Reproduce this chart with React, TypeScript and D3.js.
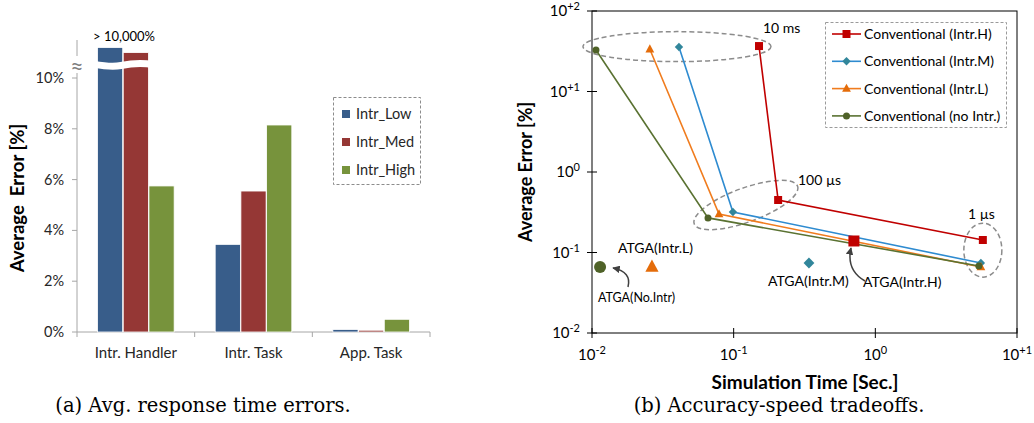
import React from "react";
import * as d3 from "d3";

// ---------- (a) bar chart data ----------
const categories = ["Intr. Handler", "Intr. Task", "App. Task"];
const seriesNames = ["Intr_Low", "Intr_Med", "Intr_High"];
// bars above 10% are drawn broken (actual values > 10,000%)
const intrLow = [11.2, 3.45, 0.1];
const intrMed = [11.0, 5.55, 0.07];
const intrHigh = [5.75, 8.15, 0.5];
const leftTicks = [0, 2, 4, 6, 8, 10];
const breakThreshold = 10;
const barColors = ["#385D8A", "#953735", "#77933C"];

// ---------- (b) log-log scatter data ----------
const convNames = ["Conventional (Intr.H)", "Conventional (Intr.M)", "Conventional (Intr.L)", "Conventional (no Intr.)"];
const convHx = [0.151, 0.206, 5.74];
const convHy = [36.7, 0.449, 0.143];
const convMx = [0.0411, 0.0988, 5.56];
const convMy = [35.7, 0.318, 0.0741];
const convLx = [0.0256, 0.0788, 5.56];
const convLy = [33.5, 0.3, 0.066];
const convNx = [0.01067, 0.0659, 5.38];
const convNy = [32.8, 0.269, 0.068];
const atgaNames = ["ATGA(No.Intr)", "ATGA(Intr.L)", "ATGA(Intr.M)", "ATGA(Intr.H)"];
const atgaX = [0.0114, 0.0265, 0.34, 0.706];
const atgaY = [0.066, 0.066, 0.0741, 0.139];
const xLogTicks = [0.01, 0.1, 1, 10];
const yLogTicks = [0.01, 0.1, 1, 10, 100];
const xTickExp = ["-2", "-1", "0", "+1"];
const yTickExp = ["-2", "-1", "0", "+1", "+2"];
const lineColors = ["#C00000", "#2E8BD0", "#F07C1E", "#5A7232"];
const markerColors = ["#C00000", "#31869B", "#E46C0A", "#4F6228"];
const shapes = ["square", "diamond", "triangle", "circle"];
// annotation groups (data coords of ellipse centres)
const groupLabels = ["10 ms", "100 µs", "1 µs"];
const groupCx = [0.0398, 0.122, 5.74];
const groupCy = [36.1, 0.389, 0.107];

const FONT = "Lato, 'Open Sans', sans-serif";

function markerPath(shape: string, x: number, y: number, s: number) {
  const h = s / 2;
  if (shape === "square") return `M${x - h},${y - h}h${s}v${s}h${-s}Z`;
  if (shape === "diamond") return `M${x},${y - h * 1.2}L${x + h * 1.2},${y}L${x},${y + h * 1.2}L${x - h * 1.2},${y}Z`;
  if (shape === "triangle") return `M${x},${y - s * 0.62}L${x + h * 1.1},${y + s * 0.4}L${x - h * 1.1},${y + s * 0.4}Z`;
  const p = d3.path();
  p.arc(x, y, h, 0, Math.PI * 2);
  return p.toString();
}

function BarChart() {
  const x0 = d3.scaleBand<string>().domain(categories).range([77, 430]).paddingInner(0.34).paddingOuter(0.17);
  const x1 = d3.scaleBand<string>().domain(seriesNames).range([0, x0.bandwidth()]).padding(0.02);
  const y = d3.scaleLinear().domain([0, 10]).range([332, 78]);
  const series = [intrLow, intrMed, intrHigh];
  const step = x0.step();
  const axisColor = "#A6A6A6";
  return (
    <g fontFamily={FONT}>
      {/* axes */}
      <line x1={77} x2={77} y1={40} y2={332} stroke={axisColor} />
      <line x1={77} x2={430} y1={332} y2={332} stroke={axisColor} />
      {leftTicks.map((t) => (
        <g key={t}>
          <line x1={72} x2={77} y1={y(t)} y2={y(t)} stroke={axisColor} />
          <text x={64} y={y(t)} dy="0.35em" textAnchor="end" fontSize={14.5} fill="#262626">{t}%</text>
        </g>
      ))}
      {d3.range(categories.length + 1).map((i) => (
        <line key={i} x1={77 + i * step} x2={77 + i * step} y1={332} y2={337} stroke={axisColor} />
      ))}
      {categories.map((c) => (
        <text key={c} x={(x0(c) as number) + x0.bandwidth() / 2} y={358} textAnchor="middle" fontSize={15} fill="#262626">{c}</text>
      ))}
      {/* bars */}
      {series.map((vals, si) =>
        vals.map((v, ci) => {
          const bx = (x0(categories[ci]) as number) + (x1(seriesNames[si]) as number);
          return (
            <rect key={si + "-" + ci} x={bx} y={y(v)} width={x1.bandwidth()} height={332 - y(v)}
              fill={barColors[si]} stroke="#ffffff" strokeWidth={0.8} />
          );
        })
      )}
      {/* break band across bars above the threshold */}
      {series[0][0] > breakThreshold && (
        <path d="M92,64 C101,65.5 111,67.5 121,65.5 S140,62.5 153,64.5" fill="none" stroke="#fff" strokeWidth={7} />
      )}
      <rect x={69} y={56} width={16} height={17} fill="#fff" />
      <text x={77} y={74} textAnchor="middle" fontSize={23} fill="#7f7f7f">≈</text>
      <text x={124} y={41} textAnchor="middle" fontSize={13} fill="#000">&gt; 10,000%</text>
      {/* y title */}
      <text transform="translate(24,198) rotate(-90)" textAnchor="middle" fontSize={18.5} fontWeight="bold" fill="#000" xmlSpace="preserve">Average  Error [%]</text>
      {/* legend */}
      <rect x={333.5} y={97.5} width={87} height={87} fill="none" stroke="#8c8c8c" strokeDasharray="3,2" />
      {seriesNames.map((n, i) => (
        <g key={n}>
          <rect x={342} y={110 + i * 28} width={8} height={8} fill={barColors[i]} />
          <text x={356} y={114 + i * 28} dy="0.35em" fontSize={14.5} fill="#262626">{n}</text>
        </g>
      ))}
    </g>
  );
}

function ScatterChart() {
  const x = d3.scaleLog().domain([0.01, 10]).range([592, 1017]);
  const y = d3.scaleLog().domain([0.01, 100]).range([333, 11]);
  const xs = [convHx, convMx, convLx, convNx];
  const ys = [convHy, convMy, convLy, convNy];
  const line = d3.line<[number, number]>().x((d) => x(d[0])).y((d) => y(d[1]));
  const sizes = [8, 7, 8, 7];
  const atgaShapes = ["circle", "triangle", "diamond", "square"];
  const atgaColors = [markerColors[3], markerColors[2], markerColors[1], markerColors[0]];
  const atgaSizes = [12, 12, 9, 11];
  const groupRx = [94, 55, 19];
  const groupRy = [15, 17, 27];
  const groupRot = [0, -20, 0];
  const [x0, x1] = x.range();
  const [y0, y1] = y.range();
  return (
    <g fontFamily={FONT}>
      <defs>
        <marker id="arr" viewBox="0 0 10 10" refX="9" refY="5" markerWidth="5" markerHeight="5" orient="auto">
          <path d="M0,0L10,5L0,10Z" fill="#404040" />
        </marker>
      </defs>
      {/* frame */}
      <rect x={x0} y={y1} width={x1 - x0} height={y0 - y1} fill="none" stroke="#000" strokeWidth={1} />
      {xLogTicks.map((t, i) => (
        <g key={t}>
          <line x1={x(t)} x2={x(t)} y1={y0 - 5} y2={y0 + 5} stroke="#000" />
          <text x={x(t)} y={360} textAnchor="middle" fontSize={15} fill="#000">
            10<tspan fontSize={11} dy={-6}>{xTickExp[i]}</tspan>
          </text>
        </g>
      ))}
      {yLogTicks.map((t, i) => (
        <g key={t}>
          <line x1={x0 - 5} x2={x0 + 5} y1={y(t)} y2={y(t)} stroke="#000" />
          <text x={580} y={y(t) + 5} textAnchor="end" fontSize={15} fill="#000">
            10<tspan fontSize={11} dy={-6}>{yTickExp[i]}</tspan>
          </text>
        </g>
      ))}
      <text transform="translate(532,172) rotate(-90)" textAnchor="middle" fontSize={18} fontWeight="bold" fill="#000">Average Error [%]</text>
      <text x={805} y={389} textAnchor="middle" fontSize={19} fontWeight="bold" fill="#000">Simulation Time [Sec.]</text>
      {/* group ellipses */}
      {groupLabels.map((g, i) => (
        <ellipse key={g} cx={x(groupCx[i])} cy={y(groupCy[i])} rx={groupRx[i]} ry={groupRy[i]}
          transform={`rotate(${groupRot[i]},${x(groupCx[i])},${y(groupCy[i])})`}
          fill="none" stroke="#8c8c8c" strokeWidth={1.5} strokeDasharray="5,3" />
      ))}
      <text x={763} y={33} fontSize={14} fill="#000">{groupLabels[0]}</text>
      <text x={798} y={185} fontSize={14} fill="#000">{groupLabels[1]}</text>
      <text x={968} y={219} fontSize={14} fill="#000">{groupLabels[2]}</text>
      {/* lines */}
      {xs.map((xv, si) => (
        <path key={si} d={line(xv.map((v, k) => [v, ys[si][k]] as [number, number])) as string}
          fill="none" stroke={lineColors[si]} strokeWidth={1.6} />
      ))}
      {xs.map((xv, si) =>
        xv.map((v, k) => (
          <path key={si + "m" + k} d={markerPath(shapes[si], x(v), y(ys[si][k]), sizes[si])} fill={markerColors[si]} />
        ))
      )}
      {/* ATGA points */}
      {atgaX.map((v, i) => (
        <path key={"a" + i} d={markerPath(atgaShapes[i], x(v), y(atgaY[i]), atgaSizes[i])} fill={atgaColors[i]} />
      ))}
      <text x={618} y={253} fontSize={14} fill="#000">{atgaNames[1]}</text>
      <text x={598} y={302} fontSize={12.5} fill="#000">{atgaNames[0]}</text>
      <text x={768} y={286} fontSize={14} fill="#000">{atgaNames[2]}</text>
      <text x={863} y={287} fontSize={14} fill="#000">{atgaNames[3]}</text>
      {/* arrows */}
      <path d="M628,287 Q632,272 613,268" fill="none" stroke="#404040" strokeWidth={1.5} markerEnd="url(#arr)" />
      <path d="M865,281 Q846,270 851,248" fill="none" stroke="#404040" strokeWidth={1.5} markerEnd="url(#arr)" />
      {/* legend */}
      <rect x={825.5} y={22.5} width={181} height={105} fill="#fff" stroke="#9a9a9a" strokeDasharray="3,2" />
      {convNames.map((n, i) => {
        const ly = 34 + i * 27.3;
        return (
          <g key={n}>
            <line x1={832} x2={861} y1={ly} y2={ly} stroke={lineColors[i]} strokeWidth={1.6} />
            <path d={markerPath(shapes[i], 846.5, ly, sizes[i])} fill={markerColors[i]} />
            <text x={864} y={ly} dy="0.35em" fontSize={14} fill="#000">{n}</text>
          </g>
        );
      })}
    </g>
  );
}

export default function App() {
  return (
    <svg width={1034} height={423} style={{ position: "absolute", left: 0, top: 0, background: "#fff" }}>
      <rect width={1034} height={423} fill="#fff" />
      <BarChart />
      <ScatterChart />
      <text x={203} y={412} textAnchor="middle" fontFamily="'DejaVu Serif', serif" fontSize={19.5} fill="#000">(a) Avg. response time errors.</text>
      <text x={779} y={412} textAnchor="middle" fontFamily="'DejaVu Serif', serif" fontSize={19.5} fill="#000">(b) Accuracy-speed tradeoffs.</text>
    </svg>
  );
}
